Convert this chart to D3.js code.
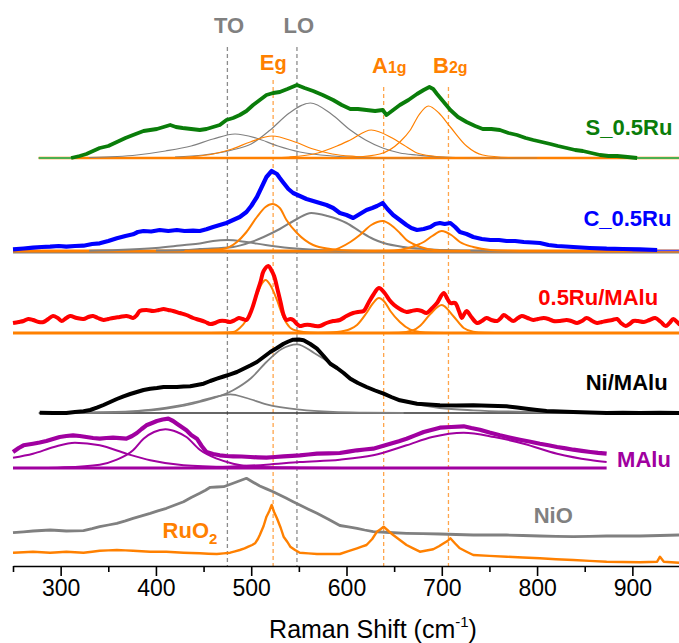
<!DOCTYPE html>
<html><head><meta charset="utf-8">
<script src="https://cdn.jsdelivr.net/npm/d3@7"></script>
<style>
body{margin:0;background:#fff}
svg{display:block}
text{font-family:"Liberation Sans",Arial,Helvetica,sans-serif}
</style>
</head><body>
<svg id="chart" width="679" height="643"></svg>
<script>
// ---------------- DATA ----------------
const shiftDomain = [250, 950];
const majorTicks = [300, 400, 500, 600, 700, 800, 900];
const minorTicks = [250, 350, 450, 550, 650, 750, 850, 950];
const sampleNames = ["S_0.5Ru", "C_0.5Ru", "0.5Ru/MAlu", "Ni/MAlu", "MAlu", "NiO", "RuO2"];
const sampleOffsets = [408, 315, 233, 153, 98, 28, 3];
const modeNames = ["TO", "LO", "Eg", "A1g", "B2g"];
const modeShifts = [475, 548, 523, 639, 707];

// measured spectra: [Raman shift, intensity above own baseline]
const sRu = [[311,0],[320,2],[327,4],[334,7],[341,10],[350,12],[359,16],[368,20],[376,23],[387,27],[394,28],[401,29],[408,31],[415,33],[421,31],[428,30],[437,29],[446,28],[453,29],[460,31],[467,33],[474,38],[481,40],[488,43],[495,47],[502,53],[509,58],[516,63],[523,65],[530,66],[538,69],[548,73],[556,70],[565,67],[575,63],[586,58],[595,53],[604,49],[612,49],[621,48],[630,47],[638,48],[642,43],[649,48],[656,53],[665,58],[674,64],[681,68],[687,71],[691,69],[695,64],[702,56],[709,48],[717,41],[726,36],[735,32],[743,29],[752,29],[761,28],[770,25],[779,23],[788,20],[796,18],[805,16],[814,14],[822,12],[831,10],[840,8],[848,7],[857,5],[866,3],[875,2],[884,2],[895,1],[905,0]];
const cRu = [[250,1.7],[261,2.5],[271,3.3],[280,4],[289,4.3],[298,5],[306,4.3],[315,5],[324,5.3],[333,7],[341,7.7],[350,10],[359,12.7],[368,15],[376,16.7],[381,19],[387,20],[395,19.5],[404,21],[413,20],[422,21],[430,20],[439,20.3],[446,20],[453,21.7],[460,24],[467,26],[474,28],[481,31],[488,34],[495,39],[500,45],[506,54],[511,64],[516,74],[521.5,80],[527,77],[530,73],[534,68],[539,62],[544,58],[551,55],[558,52],[565,50],[572,48],[579,46],[586,43],[593,38],[600,36],[607,33],[614,37],[621,41],[627,43],[632,45],[638,48],[643,42],[649,36],[656,31],[663,26],[668,23],[674,21],[681,22],[688,24],[693,27],[698,28],[703,27],[709,28],[714,24],[719,19],[726,17],[733,14],[742,12],[751,11],[760,11],[768,10],[777,10],[786,9],[795,8.5],[803,8],[812,6],[821,5],[830,4.5],[838,4],[855,3],[873,2.3],[890,2],[908,1.7],[926,1]];
const ruMAlu = [[250,10],[256,11],[261,12],[266,14],[271,13],[277,11],[282,11],[287,14],[292,17],[297,15],[301,12],[306,15],[310,17],[317,15],[324,14],[329,16],[334,17],[339,15],[345,13],[350,14],[355,15],[362,16],[369,17],[373,16],[376,15],[380,18],[383,22],[390,23],[397,22],[403,23],[408,24],[413,23],[418,22],[425,20],[432,18],[439,15],[446,13],[452,11],[457,9],[462,10],[467,12],[473,12],[478,11],[483,13],[487,15],[491,14],[495,13],[500,22],[506,40],[510,52],[513,62],[518,67],[521,63],[524,57],[528,42],[531,30],[534,18],[537,13],[541,14],[544,13],[548,9],[551,7],[556,8],[562,8],[567,7],[572,7],[579,10],[586,12],[593,13],[600,17],[607,20],[612,21],[618,22],[623,30],[628,38],[634,45],[640,40],[645,33],[650,28],[656,24],[660,22],[663,21],[668,22],[674,23],[679,22],[684,20],[690,25],[695,30],[702,40],[706,34],[709,30],[714,30],[718,22],[721,15],[723,18],[726,22],[731,16],[737,10],[742,12],[747,15],[752,13],[758,12],[762,15],[765,18],[770,15],[775,12],[780,15],[784,17],[790,15],[796,13],[801,14],[807,15],[812,14],[817,12],[824,12],[831,13],[836,12],[842,10],[847,12],[852,15],[858,12],[863,10],[868,11],[873,12],[879,13],[884,14],[888,10],[893,7],[897,9],[901,12],[906,12],[912,11],[918,13],[924,15],[930,11],[935,7],[939,10],[943,14],[947,11],[950,8]];
const niMAlu = [[278,0.3],[292,0],[306,0],[315,1],[324,1.7],[331,3],[338,5.3],[345,8],[352,11],[359,14],[366,16.7],[373,19],[380,21],[387,23],[394,24.3],[401,25],[408,26],[415,26],[422,26],[429,26.5],[436,26.7],[443,28],[450,29.3],[457,32],[464,34.3],[471,36.5],[478,38.7],[485,41],[492,44.3],[499,47.5],[506,51],[513,56],[520,61],[527,65],[534,69.3],[539,71.5],[544,73.3],[550,73.5],[555,72.7],[562,69],[569,64.3],[576,57],[583,49.3],[590,45],[597,40],[604,34.3],[612,30],[621,26],[630,22.5],[639,19.3],[647,16],[656,12.7],[665,11],[674,9.3],[686,8.5],[698,7.7],[715,7.5],[733,7.7],[750,7.2],[768,6.7],[779,5.5],[789,4.3],[800,3],[810,2],[824,1.5],[838,1],[855,0.5],[873,0],[890,0.3],[908,0],[929,0.3],[950,0]];
const mAlu = [[250,16],[256,20],[261,22.7],[266,23.5],[271,24.3],[278,25.5],[285,27],[292,29],[299,31],[306,32],[313,32.7],[320,32],[327,31],[334,30],[341,29.3],[348,30],[355,30.3],[362,29.8],[369,29.3],[375,32],[380,35],[385,39],[390,42.7],[396,45],[401,47],[407,48.5],[413,49.3],[418,47],[422,44.3],[427,41],[432,37.7],[437,33],[443,29.3],[448,22],[453,16],[460,14],[467,12.7],[474,12],[481,11.7],[490,11.5],[499,11],[507,10.6],[516,10.3],[525,11],[534,11.7],[543,12.2],[551,12.7],[560,13.5],[569,14.3],[581,14.6],[593,15],[602,16.3],[611,17.7],[619,18.5],[628,19.3],[637,21.8],[646,24.3],[655,26.8],[663,29.3],[672,32.6],[681,36],[690,38.2],[698,40.3],[710,41],[723,41.7],[731,40],[740,38.3],[750,35.5],[761,32.7],[771,30.5],[782,28.3],[793,26.3],[803,24.3],[812,22.7],[821,21],[830,19.6],[838,18.3],[847,17.1],[856,16],[864,15.1],[873,14.3]];
const niO = [[250,5.3],[261,6.2],[271,7],[280,7.5],[289,8],[298,7.5],[306,7],[315,7.1],[324,7.3],[333,9.3],[341,11.3],[350,13],[359,14.7],[368,17.2],[376,19.7],[385,22.2],[394,24.7],[402,27.2],[411,29.7],[420,33],[429,36.3],[437,40.5],[446,44.7],[452,47.7],[457,50.7],[464,51],[471,51.3],[476,53],[481,54.7],[488,57.2],[495,59.7],[502,55.8],[509,52],[516,49.1],[523,46.3],[530,43],[537,39.7],[544,36.3],[551,33],[560,28.8],[569,24.7],[581,18.8],[593,12.5],[602,11.1],[611,9.7],[619,8],[628,6.3],[645,5.5],[663,4.7],[680,4.3],[698,4],[715,3.5],[733,3],[750,3],[768,3],[785,2.5],[803,2],[820,1.6],[838,1.3],[855,1.6],[873,2],[890,2],[908,2],[929,2.5],[950,3]];
const ruO2 = [[250,10.3],[261,10.8],[271,11.3],[280,10.8],[289,10.3],[298,10.8],[306,11.3],[315,10.8],[324,10.3],[333,11.3],[341,12.3],[350,12.6],[359,13],[368,12.6],[376,12.3],[385,11.8],[394,11.3],[402,11.3],[411,11.3],[420,10.8],[429,10.3],[437,10],[446,9.7],[455,9.3],[464,9],[471,9.6],[478,10.3],[483,11.6],[488,13],[493,14.6],[497,16.3],[501,18],[504,19.7],[507,24],[509,28],[513,37],[516,46.3],[519,52],[521.5,58],[524,51],[527,44.7],[531,35],[534,26.3],[538,21],[541,16.3],[546,13],[551,10.3],[560,9.6],[569,9],[581,9],[593,9],[602,11.8],[611,14.7],[616,16.3],[621,18],[627,24],[632,31.3],[636,34],[639,36.3],[644,32],[649,28],[656,23],[663,18],[670,14.6],[677,11.3],[684,12.5],[691,13.7],[697,16.7],[702,19.7],[706,22],[709,24.7],[714,19.5],[719,14.7],[726,11.3],[733,8],[750,7.1],[768,6.3],[785,5.5],[803,4.7],[820,3.8],[838,3],[855,2.1],[873,1.3],[890,1],[908,0.7],[917,1],[926,1.3],[929,6.3],[933,1.3],[941,0.8],[949,0.3]];

// fitted components: [Raman shift, intensity above baseline]
const sTO  = [[330,0.5],[380,3],[410,7],[437,12],[460,19],[483,24],[505,20],[528,12],[551,6],[586,2],[630,0.3],[680,0]];
const sEg  = [[420,0.5],[440,1.5],[460,4],[480,9],[499,16],[522,22],[546,16],[565,9],[585,4],[610,1.5],[640,0.3],[680,0]];
const sLO  = [[420,1],[450,3],[480,8],[500,14],[520,28],[540,45],[562,55],[584,44],[604,28],[620,18],[638,10],[656,5],[674,3],[700,1],[740,0.3],[800,0]];
const sA1g = [[520,0.3],[540,1],[570,5],[590,12],[604,18],[626,28],[648,20],[660,13],[674,5],[690,2],[720,0.3],[760,0]];
const sB2g = [[580,0.3],[610,1],[635,4],[656,16],[667,28],[676,43],[686,52],[697,45],[709,31],[726,12],[743,3],[770,0.5],[800,0]];
const cTO  = [[330,0.3],[360,1],[400,3],[430,6],[446,7.5],[460,10],[475,11],[495,9],[515,6],[540,3],[570,1],[600,0.3],[640,0]];
const cEg  = [[430,0.3],[450,0.8],[470,2],[485,9],[495,19],[506,34],[515,44],[522,47],[530,43],[537,31],[548,18],[565,6],[583,2],[600,0.5],[630,0]];
const cLO  = [[400,0.5],[430,1],[446,2],[481,4],[500,9],[513,14],[530,22],[548,32],[563,38],[580,35],[600,28],[615,19],[628,12],[639,8],[660,4],[681,2],[720,0.5],[780,0]];
const cA1g = [[550,0],[570,0.3],[585,1],[604,9],[614,16],[626,26],[638,30],[648,25],[656,18],[663,11],[670,7],[685,2],[700,0.5],[730,0]];
const cB2g = [[620,0],[650,0.5],[665,3],[674,6],[681,9],[690,15],[700,20],[710,16],[719,9],[733,4],[751,1],[770,0.3],[800,0]];
const rEg  = [[440,0],[470,0.3],[481,1],[488,5],[495,13],[501,24],[506,38],[511,49],[515,53],[520,48],[527,33],[532,20],[537,10],[544,3.3],[555,1],[570,0.3],[600,0]];
const rA1g = [[570,0],[590,1],[604,4],[611,8],[621,20],[628,30],[634,35],[640,31],[646,22],[656,11],[667,3.3],[677,1],[690,0.3],[720,0]];
const rB2g = [[630,0],[655,0.3],[670,2.7],[677,7],[688,19],[700,28],[712,17],[723,5],[733,1.3],[745,0.3],[770,0]];
const nTO  = [[300,0],[340,0.3],[376,1.7],[411,5.3],[446,12],[462,16],[478,18.7],[495,15],[516,8.7],[551,3.3],[586,1],[620,0.3],[660,0]];
const nLO  = [[330,0.5],[376,1.5],[411,4.3],[446,11],[481,22.7],[500,35],[516,51],[532,64],[548,68.7],[566,60],[586,47.7],[593,42.7],[611,31],[628,22.7],[646,16],[663,11],[698,5],[733,2.7],[803,1],[870,0.3],[950,0]];
const mC1  = [[250,10.3],[271,14.3],[293,21],[315,25.3],[341,22.7],[369,14.3],[394,7.7],[429,2.7],[480,0.8],[530,0.3],[600,0]];
const mC2  = [[280,0],[300,0.5],[341,3.3],[359,8.3],[376,17.7],[387,29.3],[398,36],[410,38.7],[422,36],[432,31],[446,18.3],[464,9.3],[481,4.3],[510,1],[550,0.3],[600,0]];
const mC3  = [[440,0.5],[480,1.5],[516,3.3],[551,6],[593,8.3],[628,12.7],[663,22.7],[690,31],[723,35.3],[755,31],[786,24.3],[821,14.3],[856,8],[873,6]];

// baseline spans [start shift, end shift]
const baseSpans = [[277,950],[250,950],[250,950],[277,950],[250,873]];
const sFlatSpans = [[277,312],[904,950]];

// ---------------- CHART ----------------
const svg = d3.select("#chart");
const x = d3.scaleLinear().domain(shiftDomain).range([13, 680]);
const y = d3.scaleLinear().domain([0, 566]).range([566, 0]);

const ORANGE = "#ff8000", GRAY = "#808080", GREEN = "#0a7d0a", BLUE = "#0000ff",
      RED = "#ff0000", BLACK = "#000000", PURPLE = "#a000a0";

function lineAt(off, curve) {
  return d3.line().x(d => x(d[0])).y(d => y(d[1] + off)).curve(curve || d3.curveLinear);
}

// dashed mode lines
const modeTops = [519, 519, 486, 479, 479];
const modeColors = [GRAY, GRAY, ORANGE, ORANGE, ORANGE];
const dash = svg.append("g");
modeShifts.forEach((m, i) => {
  dash.append("line")
    .attr("x1", x(m)).attr("x2", x(m))
    .attr("y1", y(modeTops[i])).attr("y2", y(0))
    .attr("stroke", modeColors[i]).attr("stroke-width", 1.3)
    .attr("stroke-dasharray", "4,3")
    .attr("opacity", i < 2 ? 0.9 : 0.7);
});

function drawBase(off, span, color, w) {
  svg.append("path").datum([[span[0], 0], [span[1], 0]])
    .attr("d", lineAt(off)).attr("fill", "none")
    .attr("stroke", color).attr("stroke-width", w);
}
function drawComp(data, off, color, w) {
  svg.append("path").datum(data).attr("d", lineAt(off, d3.curveMonotoneX))
    .attr("fill", "none").attr("stroke", color).attr("stroke-width", w);
}
function drawSpec(data, off, color, w, curve) {
  svg.append("path").datum(data).attr("d", lineAt(off, curve))
    .attr("fill", "none").attr("stroke", color).attr("stroke-width", w)
    .attr("stroke-linejoin", "round");
}

// S_0.5Ru
let o = sampleOffsets[0];
drawBase(o, baseSpans[0], GRAY, 1.2);
drawBase(o, baseSpans[0], ORANGE, 2.6);
drawComp(sTO, o, GRAY, 1.2);
drawComp(sLO, o, GRAY, 1.2);
drawComp(sEg, o, ORANGE, 1.2);
drawComp(sA1g, o, ORANGE, 1.2);
drawComp(sB2g, o, ORANGE, 1.2);
sFlatSpans.forEach(s => drawBase(o, s, "#4caf50", 2));
drawSpec(sRu, o, GREEN, 3.8);

// C_0.5Ru
o = sampleOffsets[1];
drawBase(o - 1.5, baseSpans[1], GRAY, 1.8);
drawBase(o, baseSpans[1], ORANGE, 3);
drawBase(o + 0.5, [900, 950], "#4b4bff", 1.6);
drawComp(cTO, o, GRAY, 2);
drawComp(cLO, o, GRAY, 2);
drawComp(cEg, o, ORANGE, 2);
drawComp(cA1g, o, ORANGE, 2);
drawComp(cB2g, o, ORANGE, 2);
drawSpec(cRu, o, BLUE, 4.2);

// 0.5Ru/MAlu
o = sampleOffsets[2];
drawBase(o, baseSpans[2], ORANGE, 3);
drawComp(rEg, o, ORANGE, 2);
drawComp(rA1g, o, ORANGE, 2);
drawComp(rB2g, o, ORANGE, 2);
drawSpec(ruMAlu, o, RED, 4, d3.curveCatmullRom);

// Ni/MAlu
o = sampleOffsets[3];
drawBase(o, baseSpans[3], "#333", 1.6);
drawComp(nTO, o, GRAY, 1.8);
drawComp(nLO, o, GRAY, 1.8);
drawSpec(niMAlu, o, BLACK, 4);

// MAlu
o = sampleOffsets[4];
drawBase(o, baseSpans[4], PURPLE, 3);
drawComp(mC1, o, PURPLE, 2);
drawComp(mC2, o, PURPLE, 2);
drawComp(mC3, o, PURPLE, 2);
drawSpec(mAlu, o, PURPLE, 4.2);

// NiO and RuO2
drawSpec(niO, sampleOffsets[5], GRAY, 2.8);
drawSpec(ruO2, sampleOffsets[6], ORANGE, 2.4);

// ---------------- AXIS ----------------
const ax = svg.append("g").attr("transform", `translate(0,${y(0)})`);
ax.call(d3.axisBottom(x).tickValues(majorTicks).tickSize(10).tickSizeOuter(0).tickPadding(4).tickFormat(d3.format("d")));
ax.select(".domain").attr("stroke-width", 1.6);
ax.selectAll(".tick line").attr("stroke-width", 1.6);
ax.selectAll(".tick text").attr("font-size", 23).attr("font-family", '"Liberation Sans",Arial,sans-serif').attr("fill", "#000");
const axm = svg.append("g").attr("transform", `translate(0,${y(0)})`);
axm.call(d3.axisBottom(x).tickValues(minorTicks).tickSize(6).tickSizeOuter(0).tickFormat(""));
axm.select(".domain").remove();
axm.selectAll(".tick line").attr("stroke-width", 1.6);

const title = svg.append("text").attr("x", 373).attr("y", 638)
  .attr("text-anchor", "middle").attr("font-size", 25).attr("fill", "#000");
title.append("tspan").text("Raman Shift (cm");
title.append("tspan").text("-1").attr("font-size", 15).attr("dy", -11);
title.append("tspan").text(")").attr("dy", 11);

// ---------------- LABELS ----------------
const labelStyle = (t, color, size) => t.attr("fill", color).attr("font-size", size).attr("font-weight", "bold");
const sampleLabelPos = [[942, 431, "end"], [941, 340, "end"], [927, 261, "end"], [937, 176, "end"], [884, 99, "start"], [817, 43, "middle"]];
const sampleColors = [GREEN, BLUE, RED, BLACK, PURPLE, GRAY];
sampleLabelPos.forEach((p, i) => {
  labelStyle(svg.append("text").attr("x", x(p[0])).attr("y", y(p[1])).attr("text-anchor", p[2]).text(sampleNames[i]), sampleColors[i], 22);
});
// RuO2 with subscript
const ru = labelStyle(svg.append("text").attr("x", x(407)).attr("y", y(28)), ORANGE, 22);
ru.append("tspan").text("RuO");
ru.append("tspan").text("2").attr("font-size", 15).attr("dy", 6);

// mode labels
const gl = (shift, level, color, anchor) =>
  labelStyle(svg.append("text").attr("x", x(shift)).attr("y", y(level)).attr("text-anchor", anchor), color, 22);
gl(476.7, 533, GRAY, "middle").text(modeNames[0]);
gl(550, 533, GRAY, "middle").text(modeNames[1]);
const eg = gl(509, 496, ORANGE, "start");
eg.append("tspan").text("E"); eg.append("tspan").text("g").attr("font-size", 20);
const a1 = gl(626.8, 493, ORANGE, "start");
a1.append("tspan").text("A"); a1.append("tspan").text("1g").attr("font-size", 16);
const b2 = gl(690.8, 493, ORANGE, "start");
b2.append("tspan").text("B"); b2.append("tspan").text("2g").attr("font-size", 16);
</script>
</body></html>
